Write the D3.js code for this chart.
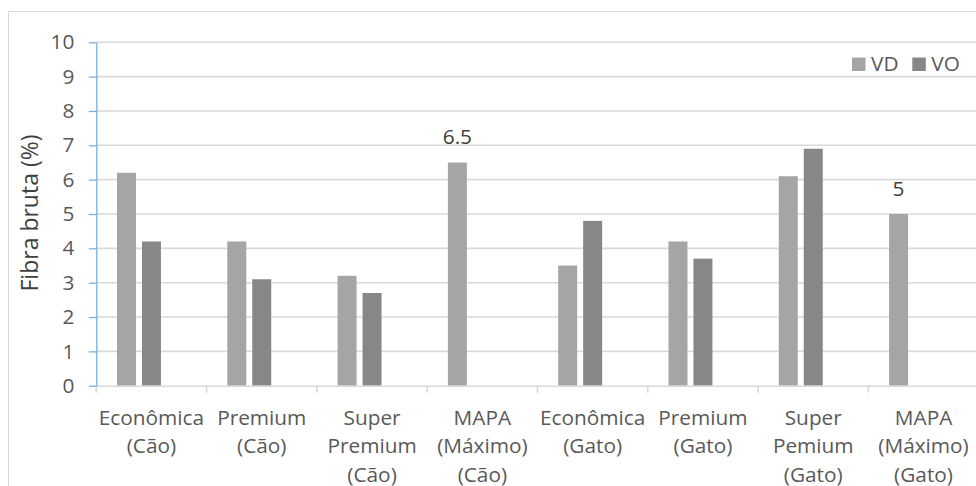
<!DOCTYPE html>
<html>
<head>
<meta charset="utf-8">
<script src="https://cdn.jsdelivr.net/npm/d3@7"></script>
<style>
  html, body { margin: 0; padding: 0; background: #fff; }
  svg { display: block; font-family: "Open Sans", "Noto Sans", sans-serif; }
</style>
</head>
<body>
<svg id="chart" width="976" height="486"></svg>
<script>
// Categories (line breaks mark how each axis label wraps)
const categories = [
  "Econômica\n(Cão)",
  "Premium\n(Cão)",
  "Super\nPremium\n(Cão)",
  "MAPA\n(Máximo)\n(Cão)",
  "Econômica\n(Gato)",
  "Premium\n(Gato)",
  "Super\nPemium\n(Gato)",
  "MAPA\n(Máximo)\n(Gato)"
];
// Fibra bruta (%) per series
const vdValues = [6.2, 4.2, 3.2, 6.5, 3.5, 4.2, 6.1, 5];
const voValues = [4.2, 3.1, 2.7, null, 4.8, 3.7, 6.9, null];
// Only the MAPA reference bars carry a value label
const vdLabelled = [false, false, false, true, false, false, false, true];
const seriesNames = ["VD", "VO"];
const seriesColors = ["#a5a5a5", "#878787"];
const yTicks = [0, 1, 2, 3, 4, 5, 6, 7, 8, 9, 10];
const yTitle = "Fibra bruta (%)";

const svg = d3.select("#chart");
const plot = { left: 96.3, top: 42.3, bottom: 385.7, right: 96.3 + 110.3 * 8 };
const textColor = "#595959";
const gridColor = "#d9d9d9";
const fontSize = 20.8;

// Chart frame
svg.append("path")
  .attr("d", "M8.5,486 L8.5,11.5 L976,11.5")
  .attr("fill", "none").attr("stroke", gridColor).attr("stroke-width", 1);

const x0 = d3.scaleBand().domain(d3.range(categories.length))
  .range([plot.left, plot.right]).paddingInner(0).paddingOuter(0);
// three slots per category; the third one stays empty
const x1 = d3.scaleBand().domain([0, 1, 2])
  .range([0, x0.bandwidth()]).paddingInner(0.24).paddingOuter(0.828);
const y = d3.scaleLinear().domain([0, 10]).range([plot.bottom, plot.top]);

// Horizontal gridlines
svg.append("g").selectAll("line").data(yTicks.filter(d => d > 0)).join("line")
  .attr("x1", plot.left).attr("x2", plot.right)
  .attr("y1", d => y(d)).attr("y2", d => y(d))
  .attr("stroke", gridColor).attr("stroke-width", 1.6);

// Bars
const series = [vdValues, voValues];
series.forEach((vals, si) => {
  svg.append("g").selectAll("rect")
    .data(vals.map((v, i) => ({ v, i })).filter(d => d.v != null))
    .join("rect")
    .attr("x", d => x0(d.i) + x1(si))
    .attr("width", x1.bandwidth())
    .attr("y", d => y(d.v))
    .attr("height", d => y(0) - y(d.v))
    .attr("fill", seriesColors[si]);
});

// Value labels
svg.append("g").selectAll("text")
  .data(vdValues.map((v, i) => ({ v, i })).filter(d => vdLabelled[d.i]))
  .join("text")
  .attr("x", d => x0(d.i) + x1(0) + x1.bandwidth() / 2)
  .attr("y", d => y(d.v) - 18)
  .attr("text-anchor", "middle")
  .attr("font-size", fontSize).attr("fill", "#404040")
  .text(d => d3.format("")(d.v));

// X axis: baseline, boundary ticks, wrapped labels
const xAxis = svg.append("g").attr("transform", `translate(0,${plot.bottom})`)
  .call(d3.axisBottom(x0).tickSize(0).tickFormat(""));
xAxis.select(".domain").attr("stroke", gridColor).attr("stroke-width", 1.6);
xAxis.selectAll(".tick").remove();
svg.append("g").selectAll("line")
  .data(d3.range(categories.length + 1))
  .join("line")
  .attr("x1", i => plot.left + i * x0.step()).attr("x2", i => plot.left + i * x0.step())
  .attr("y1", plot.bottom).attr("y2", plot.bottom + 7)
  .attr("stroke", gridColor).attr("stroke-width", 1.6);
const catLabels = svg.append("g").selectAll("text")
  .data(categories).join("text")
  .attr("x", (d, i) => x0(i) + x0.bandwidth() / 2)
  .attr("y", 425)
  .attr("text-anchor", "middle")
  .attr("font-size", fontSize).attr("fill", textColor);
catLabels.each(function(d) {
  const t = d3.select(this);
  d.split("\n").forEach((line, k) => {
    t.append("tspan").attr("x", t.attr("x")).attr("dy", k === 0 ? 0 : 28.3).text(line);
  });
});

// Y axis
const yAxis = svg.append("g").attr("transform", `translate(${plot.left},0)`)
  .call(d3.axisLeft(y).tickValues(yTicks).tickSize(7.5).tickPadding(14.5).tickSizeOuter(0));
yAxis.select(".domain").attr("stroke", "#7aaee0").attr("stroke-width", 1.3);
yAxis.selectAll(".tick line").attr("stroke", "#7aaee0").attr("stroke-width", 1.3);
yAxis.selectAll(".tick text")
  .attr("font-size", fontSize).attr("fill", textColor)
  .attr("font-family", "\"Open Sans\", sans-serif");

// Y axis title
svg.append("text")
  .attr("transform", "translate(38,213) rotate(-90)")
  .attr("text-anchor", "middle")
  .attr("font-size", 23).attr("fill", "#404040")
  .text(yTitle);

// Legend
const legend = svg.append("g");
const legendX = [852, 912.3];
seriesNames.forEach((name, si) => {
  legend.append("rect")
    .attr("x", legendX[si]).attr("y", 57.5).attr("width", 13.5).attr("height", 13.5)
    .attr("fill", seriesColors[si]);
  legend.append("text")
    .attr("x", legendX[si] + 19).attr("y", 71)
    .attr("font-size", fontSize).attr("fill", textColor)
    .text(name);
});
</script>
</body>
</html>
